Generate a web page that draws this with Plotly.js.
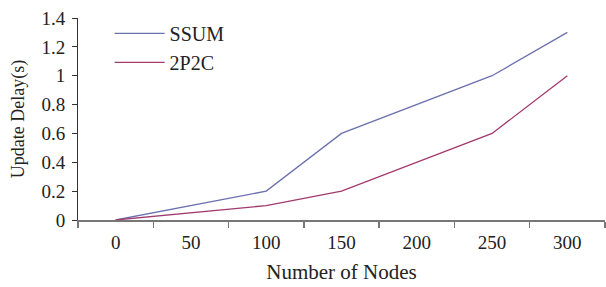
<!DOCTYPE html>
<html>
<head>
<meta charset="utf-8">
<script src="https://cdn.plot.ly/plotly-3.0.1.min.js"></script>
<style>html,body{margin:0;padding:0;background:#fff;}#chart{width:606px;height:287px;}</style>
</head>
<body>
<div id="chart"></div>
<script>
const nodes = ['0', '50', '100', '150', '200', '250', '300'];
const ssum = [0, 0.1, 0.2, 0.6, 0.8, 1.0, 1.3];
const p2c = [0, 0.05, 0.1, 0.2, 0.4, 0.6, 1.0];
const yTicks = [0, 0.2, 0.4, 0.6, 0.8, 1, 1.2, 1.4];
const yTickText = ['0', '0.2', '0.4', '0.6', '0.8', '1', '1.2', '1.4'];

const fam = 'Liberation Serif, DejaVu Serif, serif';
const tickFont = {family: fam, size: 19, color: '#222'};

const traces = [
  {x: nodes, y: ssum, name: 'SSUM', type: 'scatter', mode: 'lines',
   line: {color: '#6b70ae', width: 1.3}},
  {x: nodes, y: p2c, name: '2P2C', type: 'scatter', mode: 'lines',
   line: {color: '#a23a6e', width: 1.3}}
];

const layout = {
  width: 606, height: 287,
  margin: {l: 78, r: 1, t: 18, b: 67},
  paper_bgcolor: '#fff', plot_bgcolor: '#fff',
  font: tickFont,
  showlegend: true,
  legend: {x: 0.06, y: 1.02, xanchor: 'left', yanchor: 'top', bgcolor: 'rgba(0,0,0,0)',
           font: {family: fam, size: 20, color: '#222'}, itemwidth: 50},
  xaxis: {
    type: 'category', range: [-0.5, 6.5], tickson: 'boundaries', ticks: 'outside', ticklen: 6,
    tickcolor: '#777', tickwidth: 1.5,
    showline: true, linecolor: '#777', linewidth: 2,
    showgrid: false, zeroline: false,
    tickfont: tickFont, ticklabelstandoff: 4,
    title: {text: 'Number of Nodes', font: {family: fam, size: 21, color: '#222'}, standoff: 13}
  },
  yaxis: {
    range: [0, 1.4], tickvals: yTicks, ticktext: yTickText,
    ticks: 'outside', ticklen: 5, tickcolor: '#333', tickwidth: 1,
    showline: true, linecolor: '#333', linewidth: 1,
    showgrid: false, zeroline: false,
    tickfont: tickFont, ticklabelstandoff: 3,
    title: {text: 'Update Delay(s)', font: {family: fam, size: 18, color: '#222'}, standoff: 12}
  }
};

Plotly.newPlot('chart', traces, layout, {displayModeBar: false, staticPlot: true});
</script>
</body>
</html>
